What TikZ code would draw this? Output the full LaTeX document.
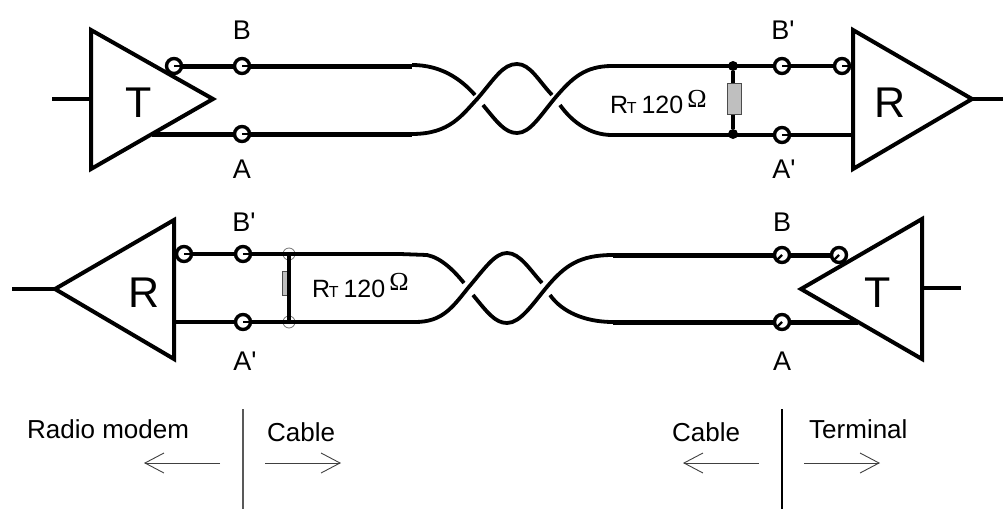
\documentclass[tikz,border=0pt]{standalone}
\usepackage{fontspec}
\setmainfont{Liberation Sans}
\newfontfamily\omegafont{Liberation Serif}
\newfontfamily\pinfont{Liberation Sans}
\usetikzlibrary{arrows.meta}
\newcommand{\fs}[1]{\fontsize{#1}{#1}\selectfont}
\newcommand{\rtlabel}{\fs{25}R\kern-1.5pt{\fs{16}T}\kern5pt 120}
\tikzset{
  amp/.style={draw=black,line width=4pt,line join=miter,miter limit=10},
  terminal/.style={circle,draw=black,fill=white,line width=3.4pt,minimum size=15pt,inner sep=0pt,outer sep=0pt},
  stub/.style={line width=2.4pt},
  heavy/.style={line width=5pt},
  wire/.style={line width=3.6pt},
  twist/.style={line width=3.8pt},
  lead/.style={line width=4.6pt},
  solder/.style={circle,fill=black,minimum size=10pt,inner sep=0pt},
  hollow/.style={circle,draw=black!55,line width=0.8pt,minimum size=12pt,inner sep=0pt},
  resistor/.style={draw=black!70,fill=black!25,line width=0.8pt,inner sep=0pt},
  pin/.style={anchor=base,text=black,inner sep=0pt,font=\pinfont\fs{27}},
  ampname/.style={anchor=base,inner sep=0pt,font=\fs{43}},
  note/.style={anchor=base west,inner sep=0pt,font=\fs{26}},
  rlabel/.style={anchor=base west,inner sep=0pt},
  ohm/.style={inner sep=0pt,font=\omegafont\fs{26}},
  divider/.style={line width=1.2pt},
  dirarrow/.style={line width=0.9pt,draw=black!75,-{Straight Barb[length=19pt,width=20pt,line width=0.9pt]}},
}
\begin{document}
\begin{tikzpicture}[x=1pt,y=-1pt]
\useasboundingbox (0,0) rectangle (1003,509);
% ---------- top row ----------
\coordinate (t1in) at (52,99);
\coordinate (t1back) at (91,99);
\coordinate (t1a) at (152,134);
\coordinate (r1apex) at (972,99);
\coordinate (r1out) at (1003,99);
\coordinate (r1a) at (853,135);
\draw[amp] (91,30) -- (213,99) -- (91,169) -- cycle;
\draw[amp] (853,30) -- (972,99) -- (853,169) -- cycle;
\draw[lead] (t1in) -- (t1back);
\draw[lead] (r1apex) -- (r1out);
\node[terminal] (u1) at (174,66) {};
\node[terminal] (ub) at (242,66) {};
\node[terminal] (ua) at (242,134) {};
\node[terminal] (ubp) at (782,66) {};
\node[terminal] (uap) at (782,135) {};
\node[terminal] (u2) at (842,66) {};
\node[solder] (d1) at (733,66) {};
\node[solder] (d2) at (733,134) {};
\coordinate (uw1) at (412,66);
\coordinate (uw2) at (412,134);
\coordinate (uw3) at (612,66);
\coordinate (uw4) at (612,135);
\draw[heavy] (u1) -- (ub);
\draw[heavy] (ub) -- (uw1);
\draw[heavy] (t1a) -- (ua);
\draw[heavy] (ua) -- (uw2);
\draw[wire] (uw3) -- (d1.center);
\draw[wire] (uw4) -- (uap);
\draw[wire] (d1.center) -- (ubp);
\draw[wire] (ubp) -- (u2);
\draw[wire] (uap) -- (r1a);
\draw[lead] (d1) -- (d2);
\node[resistor,minimum width=14pt,minimum height=31pt] (ru) at (734,98.5) {};
\foreach \n in {u1,ub,ua,ubp,uap,u2}{\draw[stub] (\n.center) -- (\n.east);}
\draw[twist] (412,65) .. controls (440,65) and (460,78) .. (475,95);
\draw[twist] (uw2) .. controls (450,134) and (462,115) .. (478,98) .. controls (495,78) and (503,64) .. (517,64) .. controls (530,64) and (538,80) .. (552,95);
\draw[twist] (483,105) .. controls (497,122) and (505,133) .. (517,133) .. controls (530,133) and (540,116) .. (555,98) .. controls (572,78) and (585,66) .. (uw3);
\draw[twist] (560,105) .. controls (572,122) and (590,135) .. (uw4);
\node[pin] (lb) at (242,39) {B};
\node[pin] (la) at (242,178) {A};
\node[pin] (lbp) at (783,39) {B'};
\node[pin] (lap) at (784,178) {A'};
\node[ampname] (nt1) at (139,117) {T};
\node[ampname] (nr1) at (890,117) {R};
\node[rlabel] (rt1) at (610,113) {\rtlabel};
\node[ohm] (om1) at (697,99) {Ω};
% ---------- lower row ----------
\coordinate (r2in) at (12,289);
\coordinate (r2apex) at (55,289);
\coordinate (r2a) at (174,322);
\coordinate (t2a) at (858,322);
\coordinate (t2back) at (922,288);
\coordinate (t2out) at (961,288);
\draw[amp] (174,220) -- (55,289) -- (174,359) -- cycle;
\draw[amp] (922,219) -- (801,289) -- (922,359) -- cycle;
\draw[lead] (r2in) -- (r2apex);
\draw[line width=3.4pt] (t2back) -- (t2out);
\node[terminal] (l1) at (184,254) {};
\node[terminal] (lbb) at (243,254) {};
\node[terminal] (laa) at (243,322) {};
\node[terminal] (lb2) at (782,255) {};
\node[terminal] (la2) at (782,322) {};
\node[terminal] (l2) at (839,255) {};
\node[hollow] (h1) at (289,254) {};
\node[hollow] (h2) at (289,322) {};
\coordinate (lw1) at (400,254);
\coordinate (lw2) at (415,322);
\coordinate (lw3) at (613,255);
\coordinate (lw4) at (613,322);
\draw[wire] (l1) -- (lbb);
\draw[wire] (lbb) -- (h1.center);
\draw[wire] (h1.center) -- (lw1);
\draw[wire] (r2a) -- (laa);
\draw[wire] (laa) -- (h2.center);
\draw[wire] (h2.center) -- (lw2);
\draw[heavy] (lw3) -- (lb2);
\draw[heavy] (lb2) -- (l2);
\draw[heavy] (lw4) -- (la2);
\draw[heavy] (la2) -- (t2a);
\node[resistor,minimum width=6.5pt,minimum height=24pt] (rl) at (286,283) {};
\draw[lead] (h1.center) -- (h2.center);
\foreach \n in {l1,lbb,laa}{\draw[stub] (\n.center) -- (\n.east);}
\foreach \n in {lb2,la2,l2}{\draw[stub] (\n.center) -- (\n.south west);}
\draw[twist] (lw1) -- (427,255) .. controls (442,258) and (455,272) .. (464,283);
\draw[twist] (lw2) .. controls (442,322) and (452,308) .. (468,288) .. controls (485,268) and (495,253) .. (507,253) .. controls (520,253) and (530,270) .. (542,283);
\draw[twist] (473,295) .. controls (487,312) and (495,323) .. (507,323) .. controls (520,323) and (532,305) .. (546,288) .. controls (565,265) and (580,255) .. (lw3);
\draw[twist] (550,295) .. controls (562,312) and (585,322) .. (lw4);
\node[pin] (lbq) at (244,231) {B'};
\node[pin] (laq) at (245,370) {A'};
\node[pin] (lbr) at (782,231) {B};
\node[pin] (lar) at (782,370) {A};
\node[ampname] (nr2) at (144,307) {R};
\node[ampname] (nt2) at (878,307) {T};
\node[rlabel] (rt2) at (312,297) {\rtlabel};
\node[ohm] (om2) at (399,282) {Ω};
% ---------- legend ----------
\node[note] (tm) at (27,438) {Radio modem};
\node[note] (tc1) at (267,441) {Cable};
\node[note] (tc2) at (672,441) {Cable};
\node[note] (tt) at (809,438) {Terminal};
\coordinate (v1a) at (243,409); \coordinate (v1b) at (243,509);
\coordinate (v2a) at (782,409); \coordinate (v2b) at (782,509);
\draw[divider,draw=black!65] (v1a) -- (v1b);
\draw[divider] (v2a) -- (v2b);
\coordinate (a1s) at (220,463); \coordinate (a1e) at (144,463);
\coordinate (a2s) at (265,463); \coordinate (a2e) at (341,463);
\coordinate (a3s) at (759,463); \coordinate (a3e) at (683,463);
\coordinate (a4s) at (804,463); \coordinate (a4e) at (880,463);
\draw[dirarrow] (a1s) -- (a1e);
\draw[dirarrow] (a2s) -- (a2e);
\draw[dirarrow] (a3s) -- (a3e);
\draw[dirarrow] (a4s) -- (a4e);
\end{tikzpicture}
\end{document}
